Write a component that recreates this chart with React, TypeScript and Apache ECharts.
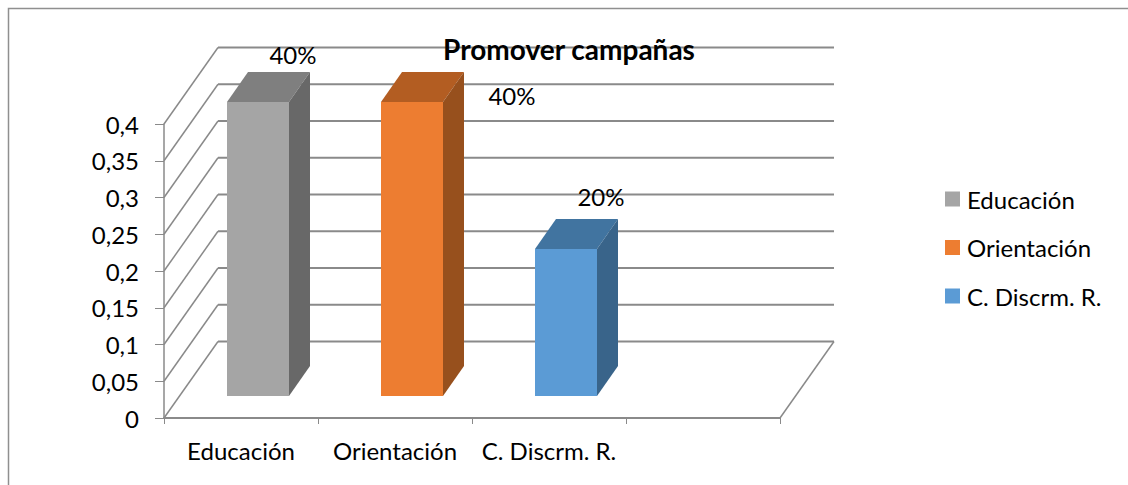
import React, { useEffect, useRef } from "react";
import * as echarts from "echarts";

const categories = ["Educación", "Orientación", "C. Discrm. R.", ""];
const seriesNames = ["Educación", "Orientación", "C. Discrm. R."];
const seriesValues = [0.4, 0.4, 0.2];
const seriesLabels = ["40%", "40%", "20%"];
const frontColors = ["#a5a5a5", "#ed7d31", "#5b9bd5"];
const topColors = ["#7f7f7f", "#b35d22", "#4174a0"];
const sideColors = ["#686868", "#97501d", "#39648a"];
const yTicks = [0, 0.05, 0.1, 0.15, 0.2, 0.25, 0.3, 0.35, 0.4];
const title = "Promover campañas";

const FONT = "Lato, Carlito, Calibri, sans-serif";
const GRID = "#8a8a8a";
const WALL_DX = 54;
const WALL_DY = -76.5;
const BAR_SHIFT_X = 17;
const BAR_SHIFT_Y = -22;
const BAR_W = 62;
const BAR_DX = 21;
const BAR_DY = -30;
const LABEL_NUDGE = [
  [66, -48],
  [131, -7],
  [66, -53],
];

export default function App() {
  const ref = useRef<HTMLDivElement>(null);
  useEffect(() => {
    document.body.style.margin = "0";
    const chart = echarts.init(ref.current!, undefined, { renderer: "svg" });

    const wallSeries = {
      type: "custom",
      silent: true,
      z: 1,
      legendHoverLink: false,
      data: yTicks.map((v) => [0, v]),
      encode: { x: 0, y: 1 },
      renderItem: (params: any, api: any) => {
        const v = api.value(1);
        const [, y] = api.coord([categories[0], v]);
        const x0 = (params.coordSys as any).x;
        const x1 = x0 + (params.coordSys as any).width;
        const back = y + WALL_DY;
        const children: any[] = [
          {
            type: "line",
            shape: { x1: x0, y1: y, x2: x0 + WALL_DX, y2: back },
            style: { stroke: GRID, lineWidth: 1.5, fill: "none" },
          },
          {
            type: "line",
            shape: { x1: x0 + WALL_DX, y1: back, x2: x1 + WALL_DX, y2: back },
            style: { stroke: GRID, lineWidth: 2, fill: "none" },
          },
        ];
        if (v === 0) {
          children.push({
            type: "line",
            shape: { x1, y1: y, x2: x1 + WALL_DX, y2: back },
            style: { stroke: GRID, lineWidth: 1.5, fill: "none" },
          });
        }
        return { type: "group", children };
      },
    };

    const barSeries = seriesNames.map((name, i) => ({
      type: "custom",
      name,
      z: 3,
      itemStyle: { color: frontColors[i] },
      data: [[categories[i], seriesValues[i]]],
      encode: { x: 0, y: 1 },
      renderItem: (_p: any, api: any) => {
        const [cx, yTop] = api.coord([api.value(0), api.value(1)]);
        const [, yBase] = api.coord([api.value(0), 0]);
        const l = cx + BAR_SHIFT_X - BAR_W / 2;
        const r = l + BAR_W;
        const t = yTop + BAR_SHIFT_Y;
        const b = yBase + BAR_SHIFT_Y;
        const poly = (points: number[][], fill: string) => ({
          type: "polygon",
          shape: { points },
          style: { fill, stroke: "none" },
        });
        return {
          type: "group",
          children: [
            poly(
              [[l, t], [r, t], [r + BAR_DX, t + BAR_DY], [l + BAR_DX, t + BAR_DY]],
              topColors[i]
            ),
            poly(
              [[r, t], [r + BAR_DX, t + BAR_DY], [r + BAR_DX, b + BAR_DY], [r, b]],
              sideColors[i]
            ),
            poly([[l, t], [r, t], [r, b], [l, b]], frontColors[i]),
            {
              type: "text",
              z2: 10,
              style: {
                text: seriesLabels[i],
                x: l + LABEL_NUDGE[i][0],
                y: t + LABEL_NUDGE[i][1],
                textAlign: "center",
                textVerticalAlign: "middle",
                fill: "#000",
                font: `24px ${FONT}`,
              },
            },
          ],
        };
      },
    }));

    chart.setOption({
      animation: false,
      backgroundColor: "#ffffff",
      title: {
        text: title,
        left: 569,
        top: 35,
        padding: 0,
        textAlign: "center",
        textStyle: { fontFamily: FONT, fontSize: 28, fontWeight: "bold", color: "#000" },
      },
      legend: {
        orient: "vertical",
        left: 945,
        top: 187,
        padding: 0,
        itemWidth: 15,
        itemHeight: 15,
        itemGap: 24.5,
        icon: "rect",
        data: seriesNames,
        selectedMode: false,
        textStyle: {
          fontFamily: FONT,
          fontSize: 24,
          color: "#000",
          padding: [0, 0, 0, 2],
          lineHeight: 24,
        },
      },
      grid: { left: 164, top: 124, width: 616, height: 294, containLabel: false },
      xAxis: {
        type: "category",
        data: categories,
        boundaryGap: true,
        axisLine: { lineStyle: { color: GRID, width: 2 } },
        axisTick: { show: true, alignWithLabel: false, length: 6, lineStyle: { color: GRID, width: 1 } },
        axisLabel: { color: "#000", fontFamily: FONT, fontSize: 24, margin: 20, interval: 0 },
      },
      yAxis: {
        type: "value",
        min: 0,
        max: 0.4,
        interval: 0.05,
        axisLine: { show: true, lineStyle: { color: GRID, width: 1.5 } },
        axisTick: { show: true, length: 9, lineStyle: { color: GRID, width: 1 } },
        axisLabel: {
          color: "#000",
          fontFamily: FONT,
          fontSize: 24,
          margin: 25,
          formatter: (v: number) => String(Number(v.toFixed(2))).replace(".", ","),
        },
        splitLine: { show: false },
      },
      graphic: [
        {
          type: "polyline",
          silent: true,
          shape: { points: [[8.5, 485], [8.5, 8.5], [1128, 8.5]] },
          style: { stroke: "#8f8f8f", lineWidth: 1.5, fill: "none" },
        },
      ],
      series: [wallSeries, ...barSeries],
    });
    return () => chart.dispose();
  }, []);
  return (
    <div
      ref={ref}
      style={{ position: "fixed", left: 0, top: 0, width: 1128, height: 485, overflow: "hidden" }}
    />
  );
}
